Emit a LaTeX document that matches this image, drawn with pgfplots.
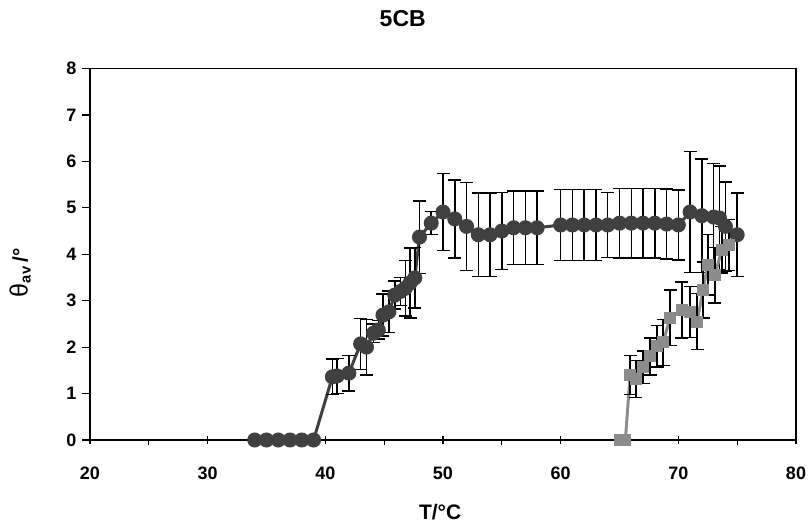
\documentclass[border=0pt]{standalone}
\usepackage{pgfplots}
\usepackage{pgfplotstable}
\pgfplotsset{compat=1.18}
\usepackage{fontspec}
\setmainfont{Liberation Sans}
\definecolor{c1}{HTML}{404040}
\definecolor{c2}{HTML}{8C8C8C}
\pgfplotstableread{
T th e
34 0 0
35 0 0
36 0 0
37 0 0
38 0 0
39 0 0
40.6 1.36 0.38
41.0 1.38 0.38
42.0 1.44 0.38
43.0 2.07 0.55
43.5 2.00 0.60
44.1 2.30 0.20
44.5 2.37 0.20
44.9 2.69 0.45
45.4 2.76 0.45
45.9 3.12 0.30
46.4 3.20 0.30
46.8 3.27 0.60
47.2 3.38 0.75
47.6 3.49 0.65
48.0 4.37 0.78
49.0 4.67 0.25
50.0 4.91 0.83
51.0 4.76 0.84
52.0 4.60 0.95
53.0 4.42 0.90
54.0 4.42 0.90
55.0 4.50 0.83
56.0 4.57 0.79
57.0 4.57 0.79
58.0 4.57 0.79
60.0 4.63 0.76
61.0 4.63 0.76
62.0 4.63 0.76
63.0 4.63 0.76
64.0 4.63 0.70
65.0 4.67 0.75
66.0 4.67 0.75
67.0 4.67 0.75
68.0 4.67 0.75
69.0 4.65 0.75
70.0 4.63 0.75
71.0 4.91 1.30
72.0 4.83 1.22
73.0 4.80 1.15
73.5 4.78 1.12
74.0 4.60 0.96
75.0 4.42 0.90
}\darkdata
\pgfplotstableread{
T th e
65.0 0 0
65.5 0 0
65.9 1.40 0.42
66.4 1.31 0.40
67.0 1.57 0.35
67.6 1.80 0.40
68.2 2.02 0.45
68.7 2.10 0.50
69.3 2.63 0.60
70.3 2.80 0.60
71.0 2.76 0.55
71.6 2.55 0.60
72.1 3.23 0.60
72.5 3.77 0.65
73.1 3.55 0.60
73.7 4.10 0.50
74.3 4.20 0.55
}\greydata
\begin{document}
\begin{tikzpicture}
\useasboundingbox (-90bp,-83bp) rectangle (718bp,440bp);
\begin{axis}[
  at={(0,0)}, anchor=south west,
  scale only axis, width=706bp, height=371.5bp,
  xmin=20, xmax=80, ymin=0, ymax=8,
  xtick={20,30,...,80}, minor xtick={25,35,...,75},
  ytick={0,1,...,8},
  xtick pos=bottom, ytick pos=left,
  tick align=outside,
  major tick length=8bp, minor tick length=5bp,
  every major x tick/.append style={yshift=4bp},
  tick style={black, line width=1.2bp},
  axis line style={black, line width=1.6bp},
  /pgf/number format/assume math mode=true,
  ticklabel style={font=\bfseries\fontsize{18bp}{20bp}\selectfont},
  yticklabel style={xshift=-2bp},
  xticklabel style={yshift=-15bp},
  title={5CB},
  title style={at={(axis description cs:0.443,1.117)}, anchor=center, font=\bfseries\fontsize{23bp}{26bp}\selectfont},
  xlabel={T/°C},
  xlabel style={at={(axis description cs:0.496,-0.194)}, anchor=center, font=\bfseries\fontsize{21bp}{24bp}\selectfont},
  ylabel={{\mdseries\fontsize{25bp}{27bp}\selectfont θ}\textsubscript{av}\,/°},
  ylabel style={at={(axis description cs:-0.099,0.45)}, anchor=center, font=\bfseries\fontsize{21bp}{24bp}\selectfont},
  clip=false,
]
\addplot[c1, line width=3bp, mark=*, mark size=6bp, mark options={solid, fill=c1, draw=c1},
  error bars/.cd, y dir=both, y explicit,
  error bar style={black, line width=1.5bp},
  error mark options={rotate=90, mark size=6.5bp, line width=1.5bp, black}]
  table[x=T, y=th, y error=e] {\darkdata};
\addplot[c2, line width=3bp, mark=square*, mark size=4.5bp, mark options={solid, fill=c2, draw=c2},
  error bars/.cd, y dir=both, y explicit,
  error bar style={black, line width=1.5bp},
  error mark options={rotate=90, mark size=6.5bp, line width=1.5bp, black}]
  table[x=T, y=th, y error=e] {\greydata};
\end{axis}
\end{tikzpicture}
\end{document}
